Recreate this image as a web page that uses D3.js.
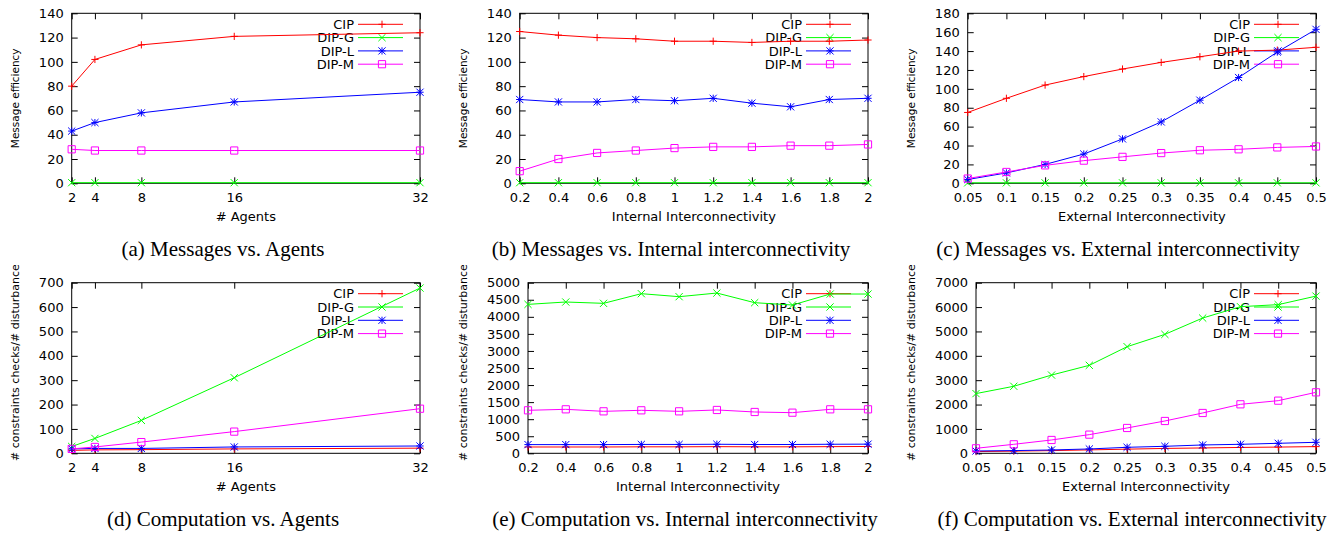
<!DOCTYPE html>
<html>
<head>
<meta charset="utf-8">
<script src="https://cdn.jsdelivr.net/npm/d3@7"></script>
<style>
  body { margin: 0; background: #fff; }
  svg { display: block; }
  .tick text, .legend text, .xlabel, .ylabel { font-family: "DejaVu Sans", sans-serif; fill: #000; }
  .caption { font-family: "Liberation Serif", "Times New Roman", serif; font-size: 21px; fill: #000; }
</style>
</head>
<body>
<svg id="fig" width="1344" height="533"></svg>
<script>
// x values for the three experiment families
var agents = [2, 4, 8, 16, 32];
var internalConn = [0.2, 0.4, 0.6, 0.8, 1, 1.2, 1.4, 1.6, 1.8, 2];
var externalConn = [0.05, 0.1, 0.15, 0.2, 0.25, 0.3, 0.35, 0.4, 0.45, 0.5];

var seriesNames = ["CIP", "DIP-G", "DIP-L", "DIP-M"];
var seriesColors = ["#ff0000", "#00ff00", "#0000ff", "#ff00ff"];

// one row per series, in the order of seriesNames
var msgAgents = [
    [80, 102, 114, 121, 124],
    [0.5, 0.5, 0.5, 0.5, 0.5],
    [43, 50, 58, 67, 75],
    [28, 27, 27, 27, 27]
];
var msgInternal = [
    [125, 122, 120, 119, 117, 117, 116, 117, 117, 118],
    [0.5, 0.5, 0.5, 0.5, 0.5, 0.5, 0.5, 0.5, 0.5, 0.5],
    [69, 67, 67, 69, 68, 70, 66, 63, 69, 70],
    [10, 20, 25, 27, 29, 30, 30, 31, 31, 32]
];
var msgExternal = [
    [75, 90, 104, 113, 121, 128, 134, 140, 141, 144],
    [0.5, 0.5, 0.5, 0.5, 0.5, 0.5, 0.5, 0.5, 0.5, 0.5],
    [4, 11, 20, 31, 47, 65, 88, 112, 139, 163],
    [5, 12, 19, 24, 28, 32, 35, 36, 38, 39]
];
var compAgents = [
    [12, 14, 15, 18, 21],
    [28, 61, 135, 310, 678],
    [18, 20, 20, 26, 30],
    [18, 26, 46, 89, 183]
];
var compInternal = [
    [185, 185, 185, 190, 190, 195, 190, 190, 195, 200],
    [4365, 4434, 4395, 4678, 4590, 4697, 4414, 4346, 4668, 4668],
    [255, 255, 255, 260, 260, 265, 258, 258, 265, 268],
    [1260, 1289, 1230, 1260, 1230, 1270, 1211, 1191, 1289, 1289]
];
var compExternal = [
    [70, 90, 110, 140, 170, 200, 220, 240, 255, 275],
    [2450, 2750, 3210, 3610, 4375, 4880, 5550, 6016, 6100, 6450],
    [96, 110, 137, 178, 246, 287, 342, 369, 410, 451],
    [205, 369, 547, 766, 1039, 1326, 1654, 2010, 2160, 2502]
];

var yMax = [140, 140, 180, 700, 5000, 7000];
var yStep = [20, 20, 20, 100, 500, 1000];
var xLabels = ["# Agents", "Internal Interconnectivity", "External Interconnectivity"];
var yLabels = ["Message efficiency", "# constraints checks/# disturbances"];
var captions = [
    "(a) Messages vs. Agents",
    "(b) Messages vs. Internal interconnectivity",
    "(c) Messages vs. External interconnectivity",
    "(d) Computation vs. Agents",
    "(e) Computation vs. Internal interconnectivity",
    "(f) Computation vs. External interconnectivity"
];
var captionX = [223, 671, 1118, 223, 685, 1132];

var panels = [
    { xs: agents, ys: msgAgents },
    { xs: internalConn, ys: msgInternal },
    { xs: externalConn, ys: msgExternal },
    { xs: agents, ys: compAgents },
    { xs: internalConn, ys: compInternal },
    { xs: externalConn, ys: compExternal }
];

var svg = d3.select("#fig");
var TICK = 6;

// gnuplot point types: +, x, *, open square
function marker(g, type, x, y, color) {
    var r = 3.6, path;
    if (type === 0) path = "M" + (x - r) + "," + y + "H" + (x + r) + "M" + x + "," + (y - r) + "V" + (y + r);
    else if (type === 1) path = "M" + (x - r) + "," + (y - r) + "L" + (x + r) + "," + (y + r) + "M" + (x - r) + "," + (y + r) + "L" + (x + r) + "," + (y - r);
    else if (type === 2) path = "M" + (x - r) + "," + y + "H" + (x + r) + "M" + x + "," + (y - r) + "V" + (y + r) +
        "M" + (x - r) + "," + (y - r) + "L" + (x + r) + "," + (y + r) + "M" + (x - r) + "," + (y + r) + "L" + (x + r) + "," + (y - r);
    else path = "M" + (x - r) + "," + (y - r) + "H" + (x + r) + "V" + (y + r) + "H" + (x - r) + "Z";
    g.append("path").attr("d", path).attr("fill", "none").attr("stroke", color).attr("stroke-width", 1);
}

// the long y title of the bottom row gets cut at the top of its panel
svg.append("defs").append("clipPath").attr("id", "ylabclip")
    .append("rect").attr("x", 0).attr("y", 265).attr("width", 1344).attr("height", 268);

panels.forEach(function (p, i) {
    var col = i % 3, row = Math.floor(i / 3);
    var ox = col * 448;
    var top = row === 0 ? 13.3 : 282.7;
    var bottom = row === 0 ? 183.3 : 453.3;
    var left = ox + (row === 1 && col > 0 ? 80 : 71.7);
    var right = ox + 420;

    var x = d3.scaleLinear().domain(d3.extent(p.xs)).range([left, right]);
    var y = d3.scaleLinear().domain([0, yMax[i]]).range([bottom, top]);
    var yTicks = d3.range(0, yMax[i] + yStep[i] / 2, yStep[i]);

    var g = svg.append("g");

    // axes with gnuplot-style inward ticks, mirrored on top/right
    g.append("g").attr("transform", "translate(" + left + ",0)")
        .call(d3.axisLeft(y).tickValues(yTicks).tickSize(-TICK).tickPadding(8).tickFormat(d3.format("d")));
    g.append("g").attr("transform", "translate(" + right + ",0)")
        .call(d3.axisRight(y).tickValues(yTicks).tickSize(-TICK).tickFormat(""));
    g.append("g").attr("transform", "translate(0," + bottom + ")")
        .call(d3.axisBottom(x).tickValues(p.xs).tickSize(-TICK).tickPadding(9).tickFormat(function (d) { return String(d); }));
    g.append("g").attr("transform", "translate(0," + top + ")")
        .call(d3.axisTop(x).tickValues(p.xs).tickSize(-TICK).tickFormat(""));
    g.selectAll(".domain").remove();
    g.selectAll(".tick line").attr("stroke", "#000");
    g.selectAll(".tick text").attr("font-size", 13);

    g.append("rect").attr("x", left).attr("y", top).attr("width", right - left).attr("height", bottom - top)
        .attr("fill", "none").attr("stroke", "#000").attr("stroke-width", 1);

    // axis titles
    g.append("text").attr("class", "xlabel").attr("font-size", 13)
        .attr("x", (left + right) / 2).attr("y", row === 0 ? 221 : 491)
        .attr("text-anchor", "middle").text(xLabels[col]);
    if (row === 0) {
        g.append("text").attr("class", "ylabel").attr("font-size", 10.5)
            .attr("text-anchor", "middle")
            .attr("transform", "translate(" + (ox + 19) + "," + ((top + bottom) / 2) + ") rotate(-90)")
            .text(yLabels[0]);
    } else {
        g.append("g").attr("clip-path", "url(#ylabclip)")
            .append("text").attr("class", "ylabel").attr("font-size", 11)
            .attr("text-anchor", "start")
            .attr("transform", "translate(" + (ox + 19) + ",461) rotate(-90)")
            .text(yLabels[1]);
    }

    // series: key sample first, then line and points
    var line = d3.line().x(function (d) { return x(d[0]); }).y(function (d) { return y(d[1]); });
    var legend = g.append("g").attr("class", "legend");
    p.ys.forEach(function (vals, s) {
        var color = seriesColors[s];
        var ly = top + 11 + s * 13.3;
        legend.append("text").attr("font-size", 13).attr("x", right - 66).attr("y", ly).attr("dy", "0.36em")
            .attr("text-anchor", "end").text(seriesNames[s]);
        legend.append("line").attr("x1", right - 62).attr("x2", right - 17).attr("y1", ly).attr("y2", ly)
            .attr("stroke", color).attr("stroke-width", 1);
        marker(legend, s, right - 38, ly, color);

        var pts = p.xs.map(function (xv, k) { return [xv, vals[k]]; });
        g.append("path").datum(pts).attr("d", line).attr("fill", "none")
            .attr("stroke", color).attr("stroke-width", 1);
        pts.forEach(function (d) { marker(g, s, x(d[0]), y(d[1]), color); });
    });

    svg.append("text").attr("class", "caption").attr("x", captionX[i])
        .attr("y", row === 0 ? 256 : 526).attr("text-anchor", "middle").text(captions[i]);
});
</script>
</body>
</html>
